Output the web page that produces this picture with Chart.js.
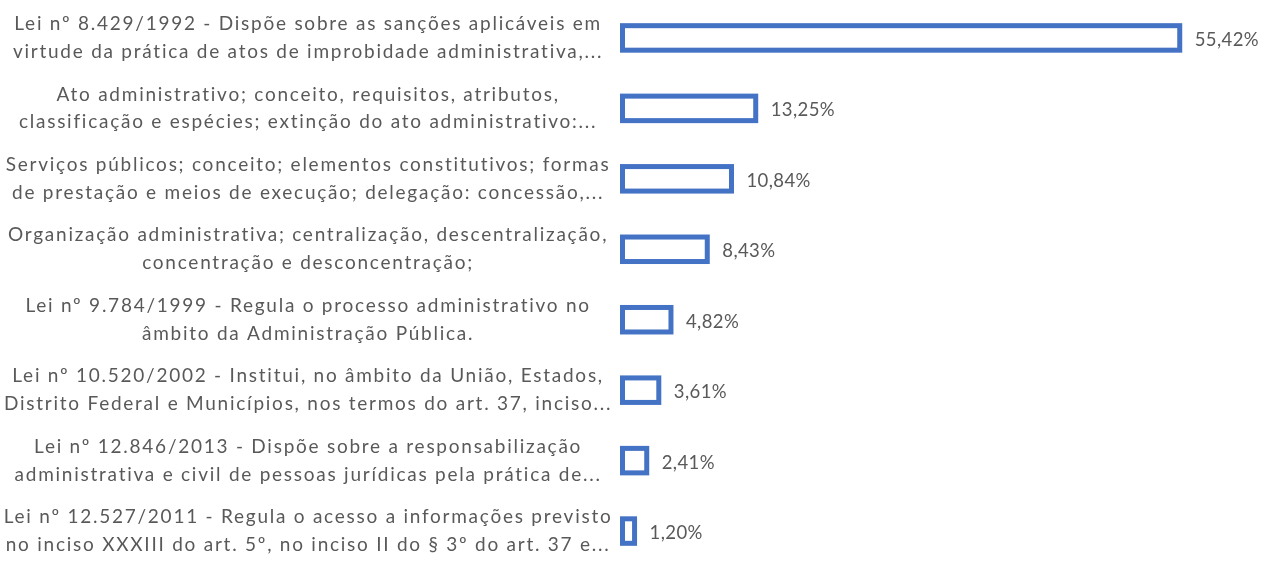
<!DOCTYPE html>
<html>
<head>
<meta charset="utf-8">
<script src="https://cdn.jsdelivr.net/npm/chart.js@4.4.0/dist/chart.umd.min.js"></script>
<style>
  html, body { margin: 0; padding: 0; background: #ffffff; }
  #wrap { width: 1273px; height: 569px; position: relative; }
</style>
</head>
<body>
<div id="wrap"><canvas id="topicChart"></canvas></div>
<script>
// Category labels (two lines each, as shown in the chart)
const topics = [
  ["Lei nº 8.429/1992 - Dispõe sobre as sanções aplicáveis em", "virtude da prática de atos de improbidade administrativa,..."],
  ["Ato administrativo; conceito, requisitos, atributos,", "classificação e espécies; extinção do ato administrativo:..."],
  ["Serviços públicos; conceito; elementos constitutivos; formas", "de prestação e meios de execução; delegação: concessão,..."],
  ["Organização administrativa; centralização, descentralização,", "concentração e desconcentração;"],
  ["Lei nº 9.784/1999 - Regula o processo administrativo no", "âmbito da Administração Pública."],
  ["Lei nº 10.520/2002 - Institui, no âmbito da União, Estados,", "Distrito Federal e Municípios, nos termos do art. 37, inciso..."],
  ["Lei nº 12.846/2013 - Dispõe sobre a responsabilização", "administrativa e civil de pessoas jurídicas pela prática de..."],
  ["Lei nº 12.527/2011 - Regula o acesso a informações previsto", "no inciso XXXIII do art. 5º, no inciso II do § 3º do art. 37 e..."]
];

// Share of questions per topic (%)
const shares = [55.42, 13.25, 10.84, 8.43, 4.82, 3.61, 2.41, 1.20];

const barColor = "#4472C4";
const textColor = "#595959";
const fontFamily = "Lato, 'Open Sans', sans-serif";

// the original labels are spaced out wider than any installed font
const spacing = {
  id: "spacing",
  beforeLayout(chart) { chart.ctx.letterSpacing = "1.75px"; },
  beforeDraw(chart) { chart.ctx.letterSpacing = "1.75px"; },
};

// Draw the bar outline centred on the bar edge (like the original), plus value labels
const outlineAndLabels = {
  id: "outlineAndLabels",
  afterDatasetsDraw(chart) {
    const ctx = chart.ctx;
    const meta = chart.getDatasetMeta(0);
    ctx.save();
    ctx.letterSpacing = "0.4px";
    meta.data.forEach((bar, i) => {
      const left = Math.min(bar.base, bar.x);
      const w = Math.abs(bar.x - bar.base);
      const top = bar.y - bar.height / 2;
      ctx.lineWidth = 5;
      ctx.strokeStyle = barColor;
      ctx.strokeRect(left, top, w, bar.height);

      const txt = shares[i].toFixed(2).replace(".", ",") + "%";
      ctx.fillStyle = textColor;
      ctx.font = "18.5px " + fontFamily;
      ctx.textAlign = "left";
      ctx.textBaseline = "middle";
      ctx.fillText(txt, bar.x + 15, bar.y + 2);
    });
    ctx.restore();
  },
};

const ctx = document.getElementById("topicChart").getContext("2d");
new Chart(ctx, {
  type: "bar",
  data: {
    labels: topics,
    datasets: [
      {
        data: shares,
        backgroundColor: "#ffffff",
        borderWidth: 0,
        barThickness: 24.5,
      },
    ],
  },
  options: {
    indexAxis: "y",
    responsive: true,
    maintainAspectRatio: false,
    animation: false,
    layout: { padding: { top: 35, bottom: 24.5, left: 0, right: 7 } },
    plugins: {
      legend: { display: false },
      tooltip: { enabled: false },
    },
    scales: {
      x: {
        min: 0,
        max: 64,
        display: false,
        grid: { display: false },
      },
      y: {
        offset: false,
        border: { display: false },
        grid: { display: false, drawTicks: false },
        afterFit: (scale) => { scale.width = 622.5; },
        ticks: {
          crossAlign: "center",
          padding: 10,
          autoSkip: false,
          color: textColor,
          font: { family: fontFamily, size: 19, lineHeight: 1.47 },
        },
      },
    },
  },
  plugins: [spacing, outlineAndLabels],
});
</script>
</body>
</html>
